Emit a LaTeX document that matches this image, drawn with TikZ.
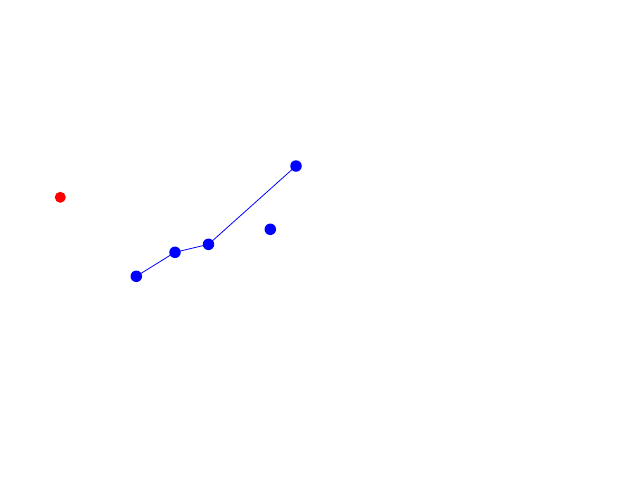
\documentclass[tikz,border=0pt]{standalone}
\begin{document}
\begin{tikzpicture}[x=1pt,y=-1pt,
  bdot/.style={circle,fill=blue,inner sep=0pt,minimum size=11.5pt},
  rdot/.style={circle,fill=red,inner sep=0pt,minimum size=11pt},
  link/.style={blue,line width=0.8pt}]
\useasboundingbox[fill=white] (0,0) rectangle (640,480);
\node[rdot] (r) at (60.3,197.3) {};
\node[bdot] (a) at (136.3,276.3) {};
\node[bdot] (b) at (175,252.3) {};
\node[bdot] (c) at (208.5,244.3) {};
\node[bdot] (d) at (296,166) {};
\node[bdot] (e) at (270.3,229.3) {};
\draw[link] (a.center) -- (b.center) -- (c.center) -- (d.center);
\end{tikzpicture}
\end{document}
